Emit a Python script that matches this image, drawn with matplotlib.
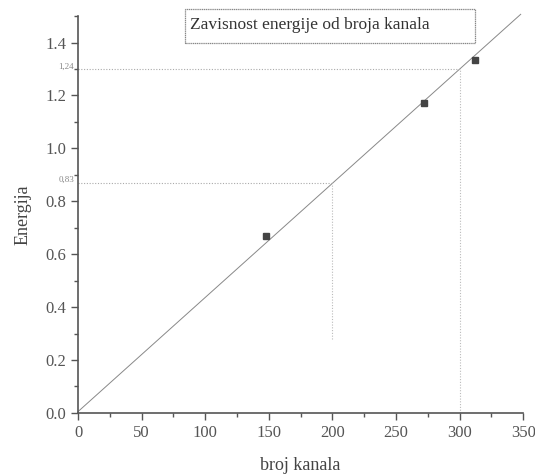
import numpy as np
import matplotlib.pyplot as plt
from matplotlib.ticker import MultipleLocator
from matplotlib.patches import Rectangle

plt.rcParams['font.family'] = ['Liberation Serif', 'DejaVu Serif']

# measured points
kanal = [148, 272, 312]
energija = [0.67, 1.17, 1.335]

# hand-drawn reading lines (kanal, energija, label)
read_x = [300, 200]
read_y = [1.30, 0.87]
read_lbl = ["1,24", "0,83"]
read_bottom = [0.0, 0.28]

ink = '#555555'

fig = plt.figure(figsize=(5.35, 4.74), dpi=100)
ax = fig.add_axes([0.146, 0.129, 0.832, 0.837])

# fit through origin
x = np.array(kanal)
y = np.array(energija)
k = np.sum(x * y) / np.sum(x * x)
xf = np.array([0, 348])
ax.plot(xf, k * xf + 0.005, color='#888888', linewidth=0.7, clip_on=False)
ax.plot(kanal, energija, 's', color='#444444', markersize=4, linestyle='none')

for xr, yr, lb, yb in zip(read_x, read_y, read_lbl, read_bottom):
    ax.plot([0, xr], [yr, yr], linestyle=(0, (1, 1.5)), color='#aaaaaa', linewidth=0.8)
    ax.plot([xr, xr], [yb, yr], linestyle=(0, (1, 1.5)), color='#bbbbbb', linewidth=0.8)
    ax.text(-3, yr + 0.01, lb, fontsize=6.5, color='#888888', ha='right', va='center')

ax.set_xlim(0, 350)
ax.set_ylim(0, 1.5)
ax.xaxis.set_major_locator(MultipleLocator(50))
ax.xaxis.set_minor_locator(MultipleLocator(25))
ax.yaxis.set_major_locator(MultipleLocator(0.2))
ax.yaxis.set_minor_locator(MultipleLocator(0.1))
ax.yaxis.set_major_formatter(plt.FuncFormatter(lambda v, p: "%.1f" % v))

for s in ['top', 'right']:
    ax.spines[s].set_visible(False)
for s in ['left', 'bottom']:
    ax.spines[s].set_color(ink)
    ax.spines[s].set_linewidth(1.2)

ax.tick_params(which='major', direction='out', length=5, width=1, color=ink,
               labelsize=12, labelcolor='#555555')
ax.tick_params(which='minor', direction='out', length=3, width=1, color=ink)

ax.set_xlabel('broj kanala', fontsize=13, color='#444444', labelpad=12)
ax.set_ylabel('Energija', fontsize=13, color='#444444', labelpad=10)

fig.patches.append(Rectangle((0.346, 0.909), 0.542, 0.072, transform=fig.transFigure,
                             facecolor='white', edgecolor='#888888', linewidth=0.9,
                             linestyle=(0, (1, 0.5))))
fig.text(0.355, 0.947, 'Zavisnost energije od broja kanala', fontsize=12.5,
         color='#333333', ha='left', va='center')

fig.savefig('out.png', dpi=100)
